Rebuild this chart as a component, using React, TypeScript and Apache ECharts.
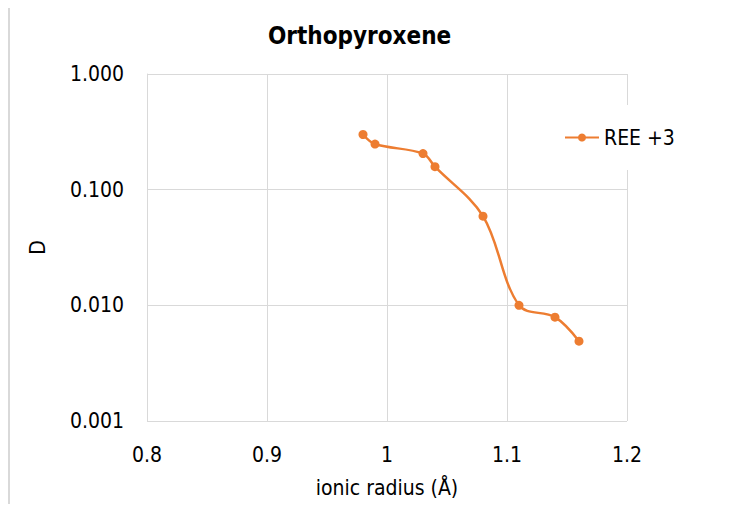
import React, { useEffect, useRef } from "react";
import * as echarts from "echarts";

const radius = [0.98, 0.99, 1.03, 1.04, 1.08, 1.11, 1.14, 1.16];
const dValues = [0.3, 0.248, 0.205, 0.158, 0.059, 0.01, 0.0079, 0.0049];
const seriesName = "REE +3";
const titleText = "Orthopyroxene";
const xName = "ionic radius (Å)";
const yName = "D";

export default function App() {
  const ref = useRef<HTMLDivElement>(null);
  useEffect(() => {
    const chart = echarts.init(ref.current!, null, { renderer: "svg" });
    const font = "'DejaVu Sans Condensed', 'DejaVu Sans', sans-serif";
    const orange = "#ed7d31";
    const fs = 21;
    chart.setOption({
      animation: false,
      backgroundColor: "#fff",
      textStyle: { fontFamily: font },
      title: {
        text: titleText,
        left: 263,
        top: 19,
        textStyle: { fontFamily: font, fontWeight: "bold", fontSize: 24, color: "#000" },
      },
      graphic: [
        {
          type: "rect",
          shape: { x: 9, y: 6, width: 724, height: 530 },
          style: { fill: "transparent", stroke: "#d9d9d9", lineWidth: 2 },
          silent: true,
          z: 100,
        },
      ],
      legend: {
        left: 555,
        top: 105,
        orient: "vertical",
        backgroundColor: "#fff",
        padding: [22, 14, 22, 9],
        itemWidth: 34,
        itemHeight: 10,
        itemGap: 8,
        textStyle: { fontFamily: font, fontSize: fs, color: "#000" },
        data: [seriesName],
      },
      grid: { left: 147, right: 108, top: 74, bottom: 91, containLabel: false },
      xAxis: {
        type: "value",
        min: 0.8,
        max: 1.2,
        interval: 0.1,
        name: xName,
        nameLocation: "middle",
        nameGap: 56,
        nameTextStyle: { fontFamily: font, fontSize: fs, color: "#000" },
        axisLine: { show: false },
        axisTick: { show: false },
        axisLabel: {
          fontFamily: font,
          fontSize: fs,
          color: "#000",
          margin: 23,
          formatter: (v: number) => String(Math.round(v * 10) / 10),
        },
        splitLine: { show: true, lineStyle: { color: "#d9d9d9", width: 1 } },
      },
      yAxis: {
        type: "log",
        logBase: 10,
        min: 0.001,
        max: 1,
        name: yName,
        nameLocation: "middle",
        nameGap: 99,
        nameTextStyle: { fontFamily: font, fontSize: fs, color: "#000" },
        axisLine: { show: true, lineStyle: { color: "#d9d9d9" } },
        axisTick: { show: false },
        axisLabel: {
          fontFamily: font,
          fontSize: fs,
          color: "#000",
          margin: 23,
          formatter: (v: number) => v.toFixed(3),
        },
        splitLine: { show: true, lineStyle: { color: "#d9d9d9", width: 1 } },
      },
      series: [
        {
          name: seriesName,
          type: "line",
          smooth: 0.35,
          data: radius.map((x, i) => [x, dValues[i]]),
          symbol: "circle",
          symbolSize: 9,
          itemStyle: { color: orange },
          lineStyle: { color: orange, width: 2.5 },
        },
      ],
    });
    return () => chart.dispose();
  }, []);
  return <div ref={ref} style={{ width: 735, height: 512, margin: -8 }} />;
}
